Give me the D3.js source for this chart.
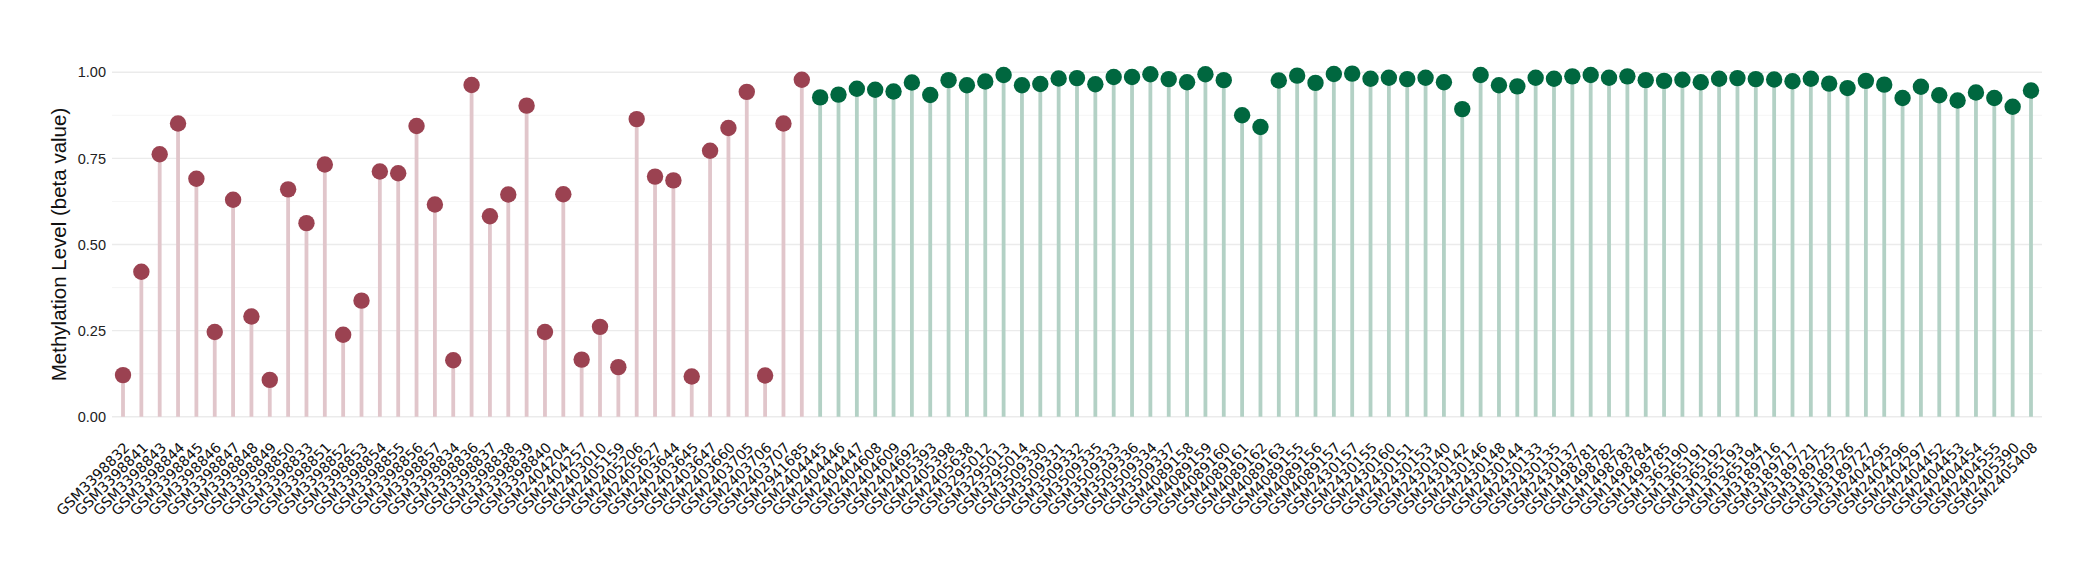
<!DOCTYPE html>
<html>
<head>
<meta charset="utf-8">
<script src="https://cdn.jsdelivr.net/npm/d3@7"></script>
<style>
  body { margin: 0; background: #fff; }
  #container { width: 2100px; height: 580px; }
</style>
</head>
<body>
<div id="container"></div>
<script>
// samples with low methylation group (red) then high group (green)
var redSamples = ["GSM3398832","GSM3398841","GSM3398843","GSM3398844","GSM3398845","GSM3398846","GSM3398847","GSM3398848","GSM3398849","GSM3398850","GSM3398833","GSM3398851","GSM3398852","GSM3398853","GSM3398854","GSM3398855","GSM3398856","GSM3398857","GSM3398834","GSM3398836","GSM3398837","GSM3398838","GSM3398839","GSM3398840","GSM2404204","GSM2404257","GSM2403010","GSM2405159","GSM2405206","GSM2405627","GSM2403644","GSM2403645","GSM2403647","GSM2403660","GSM2403705","GSM2403706","GSM2403707","GSM2941685"];
var redValues = [0.121,0.421,0.762,0.851,0.691,0.246,0.630,0.291,0.107,0.660,0.562,0.732,0.238,0.337,0.712,0.707,0.844,0.616,0.164,0.963,0.582,0.645,0.903,0.246,0.646,0.166,0.261,0.144,0.864,0.697,0.686,0.117,0.772,0.838,0.943,0.120,0.851,0.978];

var greenSamples = ["GSM2404445","GSM2404446","GSM2404447","GSM2404608","GSM2404609","GSM2404692","GSM2405393","GSM2405398","GSM2405638","GSM3295012","GSM3295013","GSM3295014","GSM3509330","GSM3509331","GSM3509332","GSM3509335","GSM3509333","GSM3509336","GSM3509334","GSM3509337","GSM4089158","GSM4089159","GSM4089160","GSM4089161","GSM4089162","GSM4089163","GSM4089155","GSM4089156","GSM4089157","GSM2430157","GSM2430155","GSM2430160","GSM2430151","GSM2430153","GSM2430140","GSM2430142","GSM2430146","GSM2430148","GSM2430144","GSM2430133","GSM2430135","GSM2430137","GSM1498781","GSM1498782","GSM1498783","GSM1498784","GSM1498785","GSM1365190","GSM1365191","GSM1365192","GSM1365193","GSM1365194","GSM3189716","GSM3189717","GSM3189721","GSM3189725","GSM3189726","GSM3189727","GSM2404295","GSM2404296","GSM2404297","GSM2404452","GSM2404453","GSM2404454","GSM2404555","GSM2405390","GSM2405408"];
var greenValues = [0.927,0.935,0.952,0.949,0.944,0.970,0.934,0.977,0.962,0.973,0.992,0.962,0.966,0.982,0.983,0.965,0.986,0.986,0.994,0.980,0.971,0.994,0.977,0.875,0.841,0.976,0.990,0.969,0.995,0.996,0.981,0.984,0.980,0.984,0.971,0.893,0.992,0.962,0.959,0.984,0.981,0.988,0.992,0.984,0.988,0.977,0.975,0.978,0.971,0.981,0.983,0.980,0.979,0.974,0.981,0.967,0.954,0.975,0.964,0.925,0.958,0.933,0.918,0.941,0.925,0.900,0.947];

var yTicks = [0, 0.25, 0.5, 0.75, 1];
var yMinor = [0.125, 0.375, 0.625, 0.875];

var groups = [
  { samples: redSamples, values: redValues, dot: "#9b4251", stem: "#e1c6cb" },
  { samples: greenSamples, values: greenValues, dot: "#00673f", stem: "#b3d1c5" }
];

var points = [];
groups.forEach(function(g) {
  g.samples.forEach(function(s, i) {
    points.push({ sample: s, value: g.values[i], dot: g.dot, stem: g.stem });
  });
});

var margin = {top: 55, right: 58, bottom: 146, left: 112},
    width = 2100 - margin.left - margin.right,
    height = 580 - margin.top - margin.bottom;

var x = d3.scalePoint()
    .domain(points.map(function(p) { return p.sample; }))
    .range([0, width])
    .padding(0.6);

var y = d3.scaleLinear()
    .domain([-0.05, 1.05])
    .range([height, 0]);

var svg = d3.select("#container").append("svg")
    .attr("width", 2100)
    .attr("height", 580)
  .append("g")
    .attr("transform", "translate(" + margin.left + "," + margin.top + ")");

// grid
svg.selectAll(".minor")
    .data(yMinor)
  .enter().append("line")
    .attr("x1", 0).attr("x2", width)
    .attr("y1", function(d) { return y(d); })
    .attr("y2", function(d) { return y(d); })
    .attr("stroke", "#f3f3f3")
    .attr("stroke-width", 0.8);

svg.selectAll(".major")
    .data(yTicks)
  .enter().append("line")
    .attr("x1", 0).attr("x2", width)
    .attr("y1", function(d) { return y(d); })
    .attr("y2", function(d) { return y(d); })
    .attr("stroke", "#ebebeb")
    .attr("stroke-width", 1.3);

// y axis
var yAxis = svg.append("g")
    .call(d3.axisLeft(y).tickValues(yTicks).tickFormat(d3.format(".2f")).tickSize(0).tickPadding(6));
yAxis.select(".domain").remove();
yAxis.selectAll("text")
    .attr("font-family", "'Liberation Sans', Arial, sans-serif")
    .attr("font-size", "14.5px")
    .attr("fill", "#222");

svg.append("text")
    .attr("transform", "translate(" + (-46) + "," + (y(0.5)) + ") rotate(-90)")
    .attr("text-anchor", "middle")
    .attr("font-family", "'Liberation Sans', Arial, sans-serif")
    .attr("font-size", "20.5px")
    .attr("fill", "#111")
    .text("Methylation Level (beta value)");

// stems
svg.selectAll(".stem")
    .data(points)
  .enter().append("line")
    .attr("class", "stem")
    .attr("x1", function(p) { return x(p.sample); })
    .attr("x2", function(p) { return x(p.sample); })
    .attr("y1", y(0))
    .attr("y2", function(p) { return y(p.value); })
    .attr("stroke", function(p) { return p.stem; })
    .attr("stroke-width", 3.8);

// dots
svg.selectAll(".dot")
    .data(points)
  .enter().append("circle")
    .attr("class", "dot")
    .attr("r", 8.2)
    .attr("cx", function(p) { return x(p.sample); })
    .attr("cy", function(p) { return y(p.value); })
    .attr("fill", function(p) { return p.dot; });

// x labels
svg.selectAll(".xlab")
    .data(points)
  .enter().append("text")
    .attr("class", "xlab")
    .attr("transform", function(p) { return "translate(" + x(p.sample) + "," + (441 - margin.top) + ") rotate(-45)"; })
    .attr("text-anchor", "end")
    .attr("dy", "0.74em")
    .attr("font-family", "'DejaVu Sans', sans-serif")
    .attr("font-size", "14.3px")
    .attr("fill", "#111")
    .text(function(p) { return p.sample; });
</script>
</body>
</html>
